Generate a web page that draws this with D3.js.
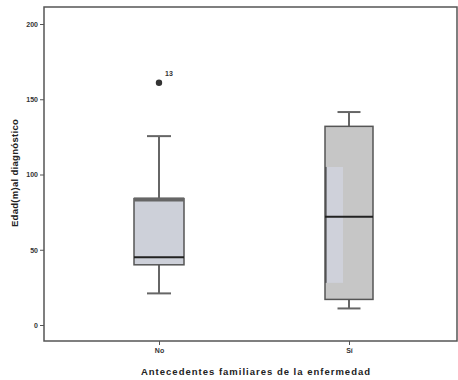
<!DOCTYPE html>
<html><head><meta charset="utf-8">
<script src="https://cdn.jsdelivr.net/npm/d3@7"></script>
<style>body{margin:0;background:#fff}svg{display:block}text{font-family:"Liberation Sans",Arial,sans-serif}</style>
</head><body>
<script>
const categories = ["No", "Sí"];
const whiskerLow = [21, 11];
const q1 = [40, 17];
const median = [45, 72];
const q3 = [84, 132];
const whiskerHigh = [125.5, 141.5];
const outlierValues = [[161], []];
const outlierLabels = [["13"], []];
const yTicks = [0, 50, 100, 150, 200];
const yTitle = "Edad(m)al diagnóstico";
const xTitle = "Antecedentes familiares de la enfermedad";

const W = 458, H = 380;
const svg = d3.select("body").append("svg").attr("width", W).attr("height", H);
const frame = {l: 44, t: 7, r: 457, b: 341};
const x = d3.scalePoint().domain(categories).range([159, 349]);
const y = d3.scaleLinear().domain([0, 200]).range([325, 24]);

svg.append("rect").attr("x", frame.l).attr("y", frame.t).attr("width", frame.r - frame.l).attr("height", frame.b - frame.t)
  .attr("fill", "#fff").attr("stroke", "#555").attr("stroke-width", 1.5);

// Y axis
const yAxis = svg.append("g").attr("transform", `translate(${frame.l},0)`)
  .call(d3.axisLeft(y).tickValues(yTicks).tickSize(4).tickPadding(2));
yAxis.select(".domain").remove();
yAxis.selectAll("line").attr("stroke", "#555");
yAxis.selectAll("text").attr("font-size", 7).attr("fill", "#333").attr("font-weight", "bold");

// X axis
const xAxis = svg.append("g").attr("transform", `translate(0,${frame.b})`)
  .call(d3.axisBottom(x).tickSize(4).tickPadding(3));
xAxis.select(".domain").remove();
xAxis.selectAll("line").attr("stroke", "#555");
xAxis.selectAll("text").attr("font-size", 7).attr("fill", "#333").attr("font-weight", "bold");

const fills = ["#cdd0d9", "#c6c6c6"];
const boxW = [50, 48];
const capW = [24, 23];

categories.forEach((c, i) => {
  const cx = x(c);
  const g = svg.append("g");
  g.append("line").attr("x1", cx).attr("x2", cx).attr("y1", y(whiskerHigh[i])).attr("y2", y(q3[i])).attr("stroke", "#666").attr("stroke-width", 2);
  g.append("line").attr("x1", cx).attr("x2", cx).attr("y1", y(q1[i])).attr("y2", y(whiskerLow[i])).attr("stroke", "#666").attr("stroke-width", 2);
  g.append("line").attr("x1", cx - capW[i]/2).attr("x2", cx + capW[i]/2).attr("y1", y(whiskerHigh[i])).attr("y2", y(whiskerHigh[i])).attr("stroke", "#666").attr("stroke-width", 2);
  g.append("line").attr("x1", cx - capW[i]/2).attr("x2", cx + capW[i]/2).attr("y1", y(whiskerLow[i])).attr("y2", y(whiskerLow[i])).attr("stroke", "#666").attr("stroke-width", 2);
  g.append("rect").attr("x", cx - boxW[i]/2).attr("y", y(q3[i])).attr("width", boxW[i]).attr("height", y(q1[i]) - y(q3[i]))
    .attr("fill", fills[i]).attr("stroke", "#555").attr("stroke-width", 1.5);
  if (i === 0) {
    g.append("line").attr("x1", cx - boxW[i]/2).attr("x2", cx + boxW[i]/2).attr("y1", y(q3[i]) + 1).attr("y2", y(q3[i]) + 1).attr("stroke", "#666").attr("stroke-width", 4);
  } else {
    g.append("rect").attr("x", cx - boxW[i]/2 + 1).attr("y", y(105)).attr("width", 17).attr("height", y(28) - y(105))
      .attr("fill", "#cfd1da").attr("stroke", "none");
    g.append("line").attr("x1", cx - boxW[i]/2 + 1).attr("x2", cx - boxW[i]/2 + 1).attr("y1", y(105)).attr("y2", y(28)).attr("stroke", "#333").attr("stroke-width", 1);
  }
  g.append("line").attr("x1", cx - boxW[i]/2).attr("x2", cx + boxW[i]/2).attr("y1", y(median[i])).attr("y2", y(median[i])).attr("stroke", "#222").attr("stroke-width", 2);
  outlierValues[i].forEach((v, k) => {
    g.append("circle").attr("cx", cx).attr("cy", y(v)).attr("r", 3.2).attr("fill", "#333");
    g.append("text").attr("x", cx + 6).attr("y", y(v) - 7).attr("font-size", 7).attr("font-weight", "bold").attr("fill", "#333").text(outlierLabels[i][k]);
  });
});

svg.append("text").attr("x", 256).attr("y", 375).attr("text-anchor", "middle").attr("font-size", 9.5).attr("letter-spacing", "1px").attr("font-weight", "bold").attr("fill", "#222").text(xTitle);
svg.append("text").attr("transform", "translate(18,173) rotate(-90)").attr("text-anchor", "middle").attr("font-size", 9.5).attr("letter-spacing", "0.3px").attr("font-weight", "bold").attr("fill", "#222").text(yTitle);
</script>
</body></html>
